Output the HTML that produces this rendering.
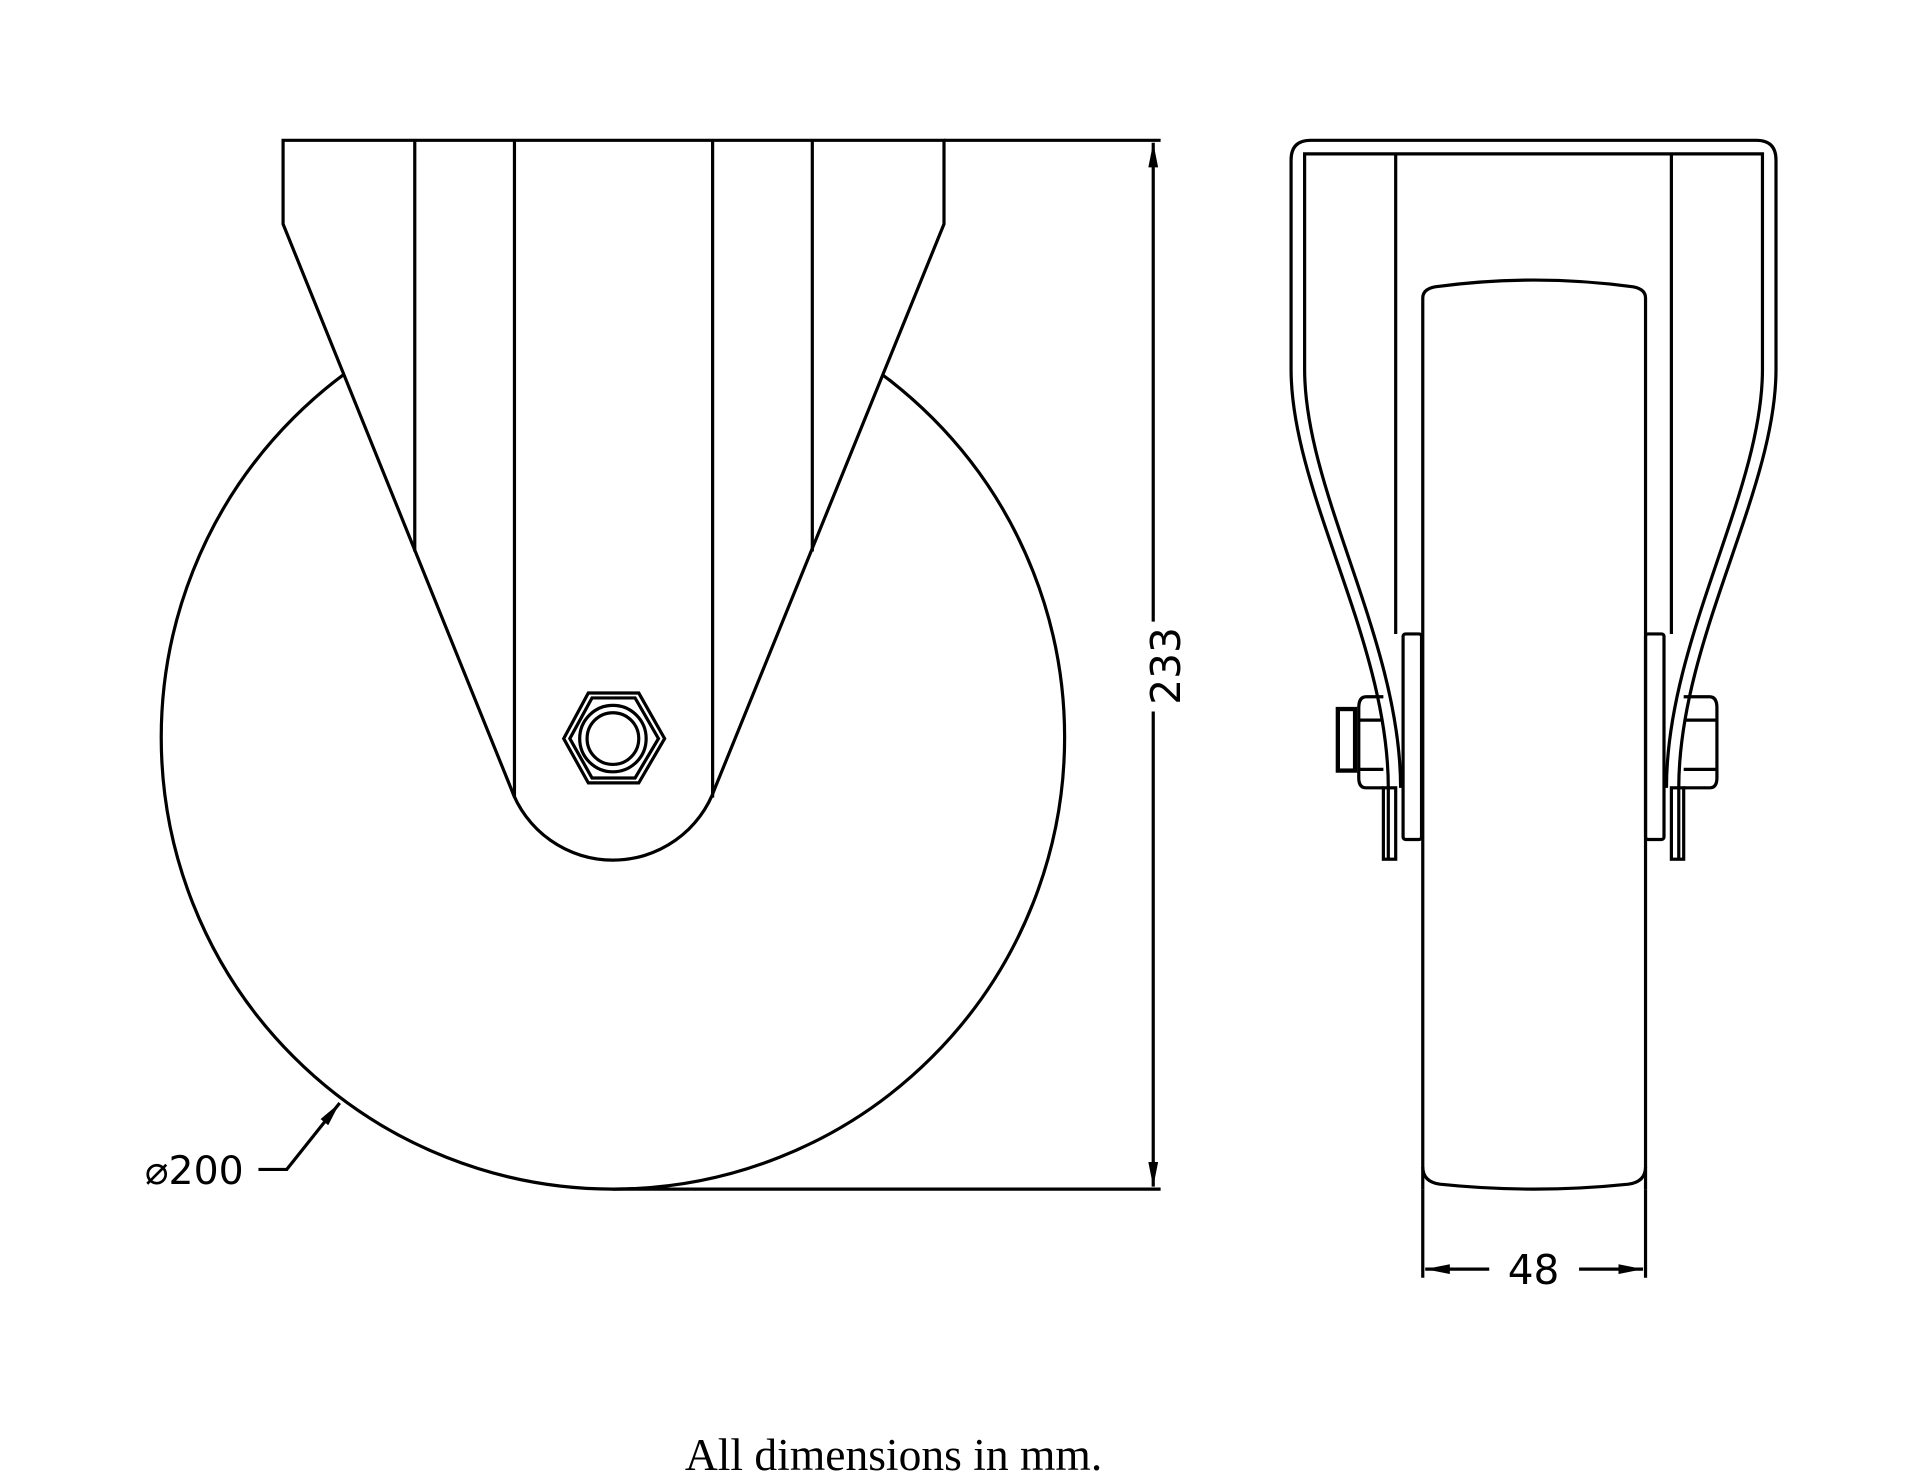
<!DOCTYPE html>
<html><head><meta charset="utf-8"><style>
html,body{margin:0;padding:0;background:#fff;}
svg{display:block;}
</style></head><body>
<svg width="1920" height="1471" viewBox="0 0 1560 1195" preserveAspectRatio="none" xmlns="http://www.w3.org/2000/svg">
<defs>
<marker id="ar" viewBox="0 0 20 8" refX="20" refY="4" markerWidth="20" markerHeight="8" markerUnits="userSpaceOnUse" orient="auto">
<path d="M0,0 L20,4 L0,8 Z" fill="#000"/>
</marker>
</defs>
<g fill="none" stroke="#000" stroke-width="2.6">
<circle cx="498" cy="599" r="367"/>
<path d="M230,114 H767 V182 L581,640 A88,88 0 0 1 415,640 L230,182 Z" fill="#fff"/>
<line x1="337" y1="114" x2="337" y2="448"/>
<line x1="660" y1="114" x2="660" y2="448"/>
<line x1="418" y1="114" x2="418" y2="648"/>
<line x1="579" y1="114" x2="579" y2="648"/>
<polygon points="458,600 478,563 519,563 540,600 519,636 478,636"/>
<polygon points="463,600 481,567 516,567 535,600 516,632 481,632"/>
<circle cx="498" cy="600" r="27"/>
<circle cx="498" cy="600" r="21"/>
<line x1="767" y1="114" x2="943" y2="114"/>
<line x1="498" y1="966" x2="943" y2="966"/>
<line x1="937" y1="505" x2="937" y2="116" marker-end="url(#ar)"/>
<line x1="937" y1="578" x2="937" y2="964" marker-end="url(#ar)"/>
<polyline points="210,950 233,950 276,896" marker-end="url(#ar)"/>
<path d="M1128,698 V640 C1128,520 1049,400 1049,300 V130 Q1049,114 1065,114 H1427 Q1443,114 1443,130 V300 C1443,400 1364,520 1364,640 V698"/>
<path d="M1138,640 C1138,520 1060,400 1060,300 V125 H1432 V300 C1432,400 1354,520 1354,640"/>
<line x1="1134" y1="125" x2="1134" y2="515"/>
<line x1="1358" y1="125" x2="1358" y2="515"/>
<rect x="1124" y="640" width="10" height="58"/>
<rect x="1358" y="640" width="10" height="58"/>
<rect x="1140" y="515" width="15" height="167" rx="2"/>
<rect x="1337" y="515" width="15" height="167" rx="2"/>
<path d="M1156,966 V242 Q1156,235 1166,233 Q1246,222 1327,233 Q1337,235 1337,242 V966"/>
<path d="M1156,948 Q1156,960 1170,962 Q1246,970 1323,962 Q1337,960 1337,948"/>
<rect x="1087" y="576" width="14" height="50" stroke-width="3.5"/>
<path d="M1124,566 H1110 Q1104,566 1104,575 V632 Q1104,640 1110,640 H1124"/>
<path d="M1104,585 H1124 M1104,625 H1124"/>
<path d="M1368,566 H1389 Q1395,566 1395,575 V632 Q1395,640 1389,640 H1368"/>
<path d="M1368,585 H1395 M1368,625 H1395"/>
<line x1="1156" y1="966" x2="1156" y2="1038"/>
<line x1="1337" y1="966" x2="1337" y2="1038"/>
<line x1="1210" y1="1031" x2="1158" y2="1031" marker-end="url(#ar)"/>
<line x1="1283" y1="1031" x2="1335" y2="1031" marker-end="url(#ar)"/>
</g>
<g font-family="DejaVu Sans, Liberation Sans, sans-serif" font-size="33" fill="#000">
<text x="950" y="541" text-anchor="middle" transform="rotate(-90 950 541)" dominant-baseline="middle">233</text>
<text x="1246" y="1043" text-anchor="middle">48</text>
<text x="198" y="962" text-anchor="end" font-size="32">⌀200</text>
</g>
<text x="726" y="1194" text-anchor="middle" font-family="Liberation Serif, serif" font-size="37" fill="#000">All dimensions in mm.</text>
</svg>
</body></html>
